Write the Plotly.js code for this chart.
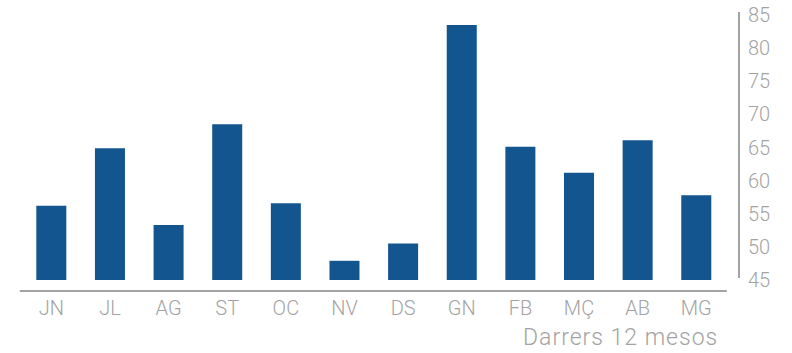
<!DOCTYPE html>
<html>
<head>
<meta charset="utf-8">
<script src="https://cdn.plot.ly/plotly-3.0.1.min.js"></script>
<style>
html,body{margin:0;padding:0;background:#fff;}
#chart{width:792px;height:353px;}
.annotation-text{letter-spacing:1px;}
</style>
</head>
<body>
<div id="chart"></div>
<script>
const months = ["JN","JL","AG","ST","OC","NV","DS","GN","FB","MÇ","AB","MG"];
const values = [56.2, 64.9, 53.3, 68.5, 56.6, 47.9, 50.5, 83.5, 65.1, 61.2, 66.1, 57.8];
const yTicks = [45,50,55,60,65,70,75,80,85];
const caption = "Darrers 12 mesos";

const grey = "#a3a3a3";
const fontFam = "Roboto, 'Liberation Sans', sans-serif";

const trace = {
  type: "bar",
  x: months,
  y: values.map(v => v - 45),
  base: 45,
  marker: {color: "#13558f"},
  hoverinfo: "x+y"
};

const layout = {
  width: 792, height: 353,
  margin: {l: 22, r: 53, t: 15, b: 73},
  paper_bgcolor: "#fff", plot_bgcolor: "#fff",
  showlegend: false,
  bargap: 0.488,
  font: {family: fontFam, size: 20, color: grey, weight: 300},
  xaxis: {
    domain: [0, 0.9813],
    showline: false, showgrid: false, zeroline: false,
    ticks: "", ticklabelstandoff: 14,
    tickfont: {family: fontFam, size: 20, color: grey, weight: 300}
  },
  yaxis: {
    range: [45, 85], tickvals: yTicks, ticktext: yTicks.map(String),
    side: "right", anchor: "free", position: 1,
    showline: false, showgrid: false, zeroline: false, ticks: "",
    ticklabelstandoff: 8,
    tickfont: {family: fontFam, size: 20, color: grey, weight: 300}
  },
  shapes: [
    {type: "line", xref: "paper", yref: "paper",
     x0: -0.003, x1: 0.983, y0: -0.0415, y1: -0.0415,
     line: {color: grey, width: 2}},
    {type: "line", xref: "paper", yref: "paper",
     x0: 1, x1: 1, y0: 0.0075, y1: 1.0113,
     line: {color: grey, width: 2}}
  ],
  annotations: [{
    text: caption, xref: "paper", yref: "paper",
    x: 0.9735, y: -0.216, xanchor: "right", yanchor: "middle",
    showarrow: false,
    font: {family: fontFam, size: 23, color: grey, weight: 300}
  }]
};

Plotly.newPlot("chart", [trace], layout, {displayModeBar: false, staticPlot: true});
</script>
</body>
</html>
